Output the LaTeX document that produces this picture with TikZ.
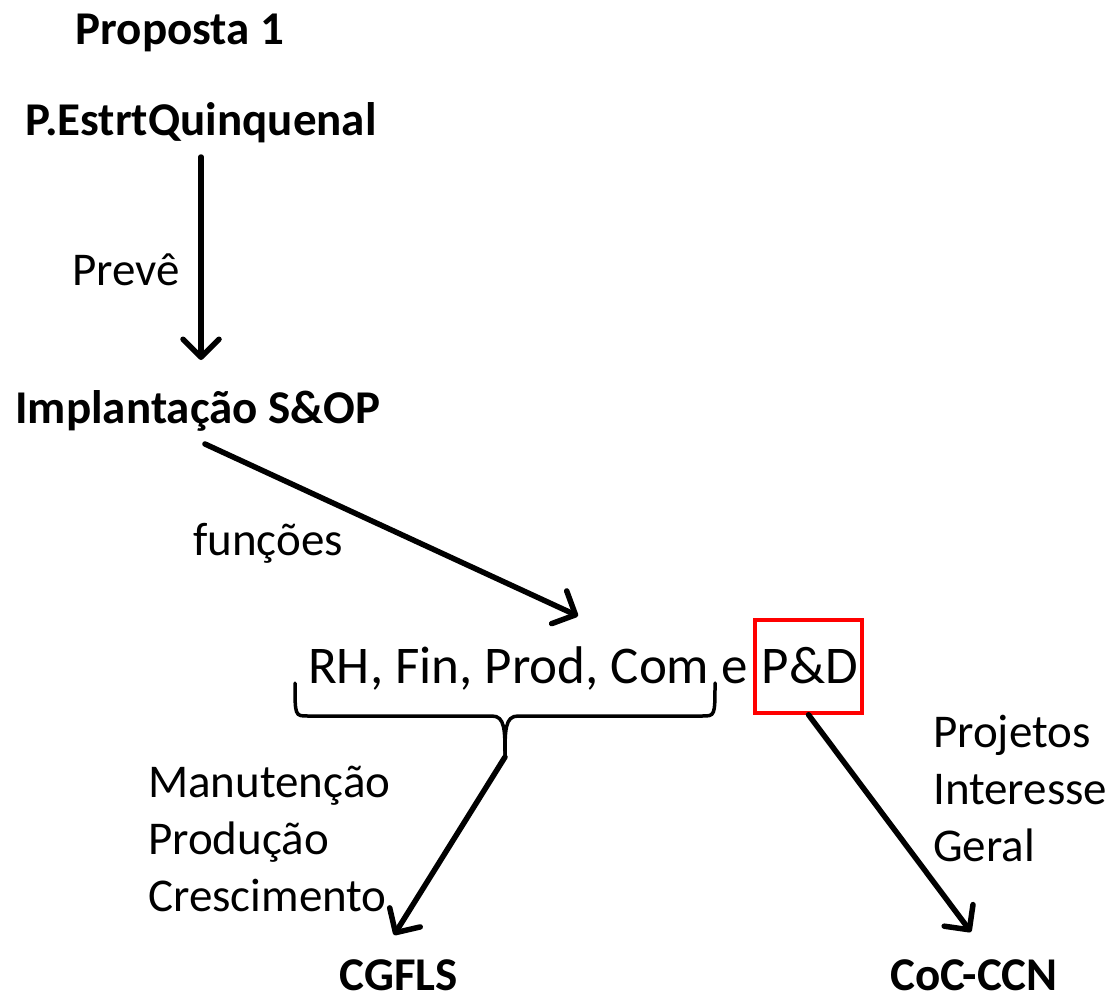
\documentclass[tikz,border=0pt]{standalone}
\usepackage{fontspec}
\setmainfont{Carlito}
\usetikzlibrary{arrows.meta}
\begin{document}
\begin{tikzpicture}[x=1pt,y=-1pt,
  lbl/.style={inner sep=0pt,font=\fontsize{47}{57}\selectfont},
  bold/.style={lbl,font=\fontsize{47}{57}\selectfont\bfseries},
  arr/.style={line width=5.5pt,line cap=round,line join=round,
    -{Straight Barb[length=18pt,width=36pt,line width=5.5pt,round]}},
  brace/.style={line width=3.5pt,line cap=round}]
\useasboundingbox (0,0) rectangle (1113,998);
% nodes
\node[bold,anchor=base] (prop) at (180,45) {Proposta 1};
\node[bold,anchor=base] (estrt) at (201,135) {P.EstrtQuinquenal};
\node[lbl,anchor=base west] (preve) at (72,285) {Prevê};
\node[bold,anchor=base] (impl) at (198,423) {Implantação S\&OP};
\node[lbl,anchor=base west] (func) at (193,555) {funções};
\node[inner sep=0pt,anchor=base west,font=\fontsize{53}{60}\selectfont] (funcs) at (308,683) {RH, Fin, Prod, Com e};
\node[inner sep=0pt,anchor=base east,font=\fontsize{53}{60}\selectfont] (pdtext) at (858,683) {P\&D};
\node[draw=red,line width=3.5pt,minimum width=107pt,minimum height=93pt,inner sep=0pt] (pd) at (808.5,666.5) {};
\node[lbl,anchor=base west,align=left] (manut) at (148,911) {Manutenção\\Produção\\Crescimento};
\node[lbl,anchor=base west,align=left] (proj) at (933,861) {Projetos\\Interesse\\Geral};
\node[bold,anchor=base] (cgfls) at (399,990) {CGFLS};
\node[bold,anchor=base] (coc) at (974,990) {CoC-CCN};
% connector ends
\coordinate (a1s) at (201,157);
\coordinate (a1e) at (201,360);
\coordinate (a2s) at (205,444);
\coordinate (a2e) at (578,616);
\coordinate (tip) at (505,757);
\coordinate (a3e) at (394,935);
\coordinate (a4e) at (971,932);
% arrows
\draw[arr] (a1s) -- (a1e);
\draw[arr] (a2s) -- (a2e);
\draw[arr] (tip) -- (a3e);
\draw[arr] (pd.south) -- (a4e);
% brace
\draw[brace] (295,683) .. controls (295,716) .. (308,716) -- (492,716)
  .. controls (505,716) and (505,730) .. (tip);
\draw[brace] (tip) .. controls (505,730) and (505,716) .. (518,716) -- (702,716)
  .. controls (715,716) .. (715,683);
\end{tikzpicture}
\end{document}
